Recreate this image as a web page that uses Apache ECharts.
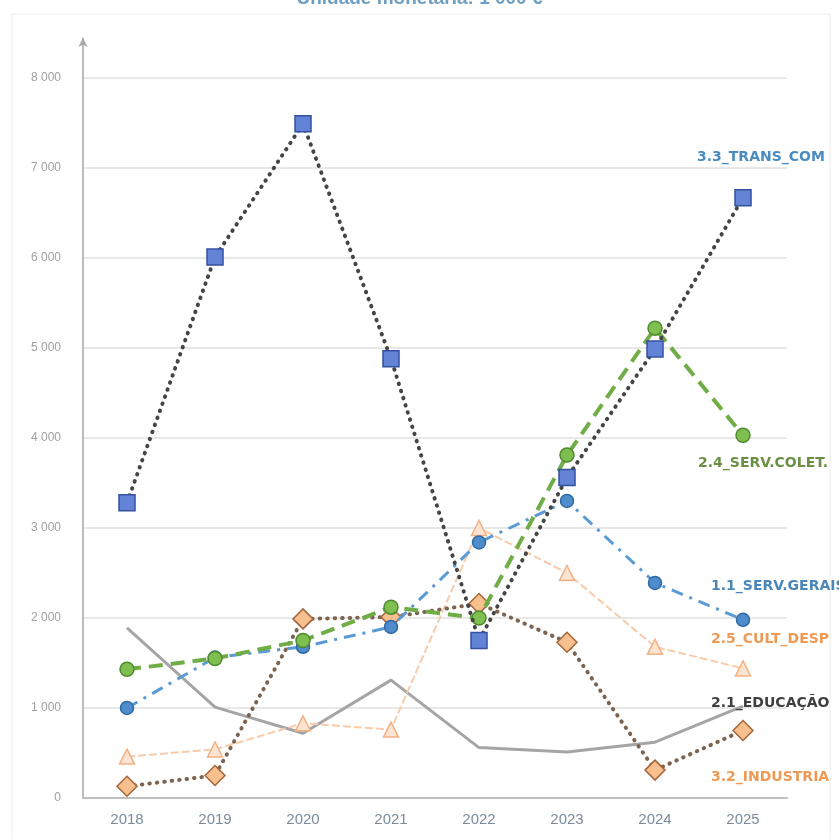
<!DOCTYPE html>
<html>
<head>
<meta charset="utf-8">
<script src="https://cdn.jsdelivr.net/npm/echarts@6/dist/echarts.min.js"></script>
<style>html,body{margin:0;padding:0;background:#fff}#c{width:839px;height:839px}</style>
</head>
<body>
<div id="c"></div>
<script>
const years = ['2018','2019','2020','2021','2022','2023','2024','2025'];
const transCom   = [3280, 6010, 7490, 4880, 1750, 3560, 4990, 6670];
const servColet  = [1430, 1550, 1750, 2120, 2000, 3810, 5220, 4030];
const servGerais = [1000, 1560, 1680, 1900, 2840, 3300, 2390, 1980];
const cultDesp   = [460, 540, 830, 760, 3000, 2500, 1680, 1440];
const educacao   = [1890, 1010, 720, 1310, 560, 510, 620, 1020];
const industria  = [130, 250, 1990, 2010, 2160, 1730, 310, 750];
const yTicks = [0, 1000, 2000, 3000, 4000, 5000, 6000, 7000, 8000];

function withEndLabel(arr, name, color, dx, dy) {
  return arr.map((v, i) => i === arr.length - 1 ? {
    value: v,
    label: {
      show: true, formatter: name, position: 'inside', align: 'left', verticalAlign: 'middle',
      offset: [dx, dy], color: color, fontSize: 14, fontWeight: 'bold', fontFamily: 'DejaVu Sans'
    }
  } : v);
}

const chart = echarts.init(document.getElementById('c'));
chart.setOption({
  backgroundColor: '#fff',
  animation: false,
  title: {
    text: 'Unidade monetária: 1 000 €', left: 'center', top: -16,
    textStyle: { color: '#6e9fc2', fontSize: 19, fontWeight: 'bold', fontFamily: 'Liberation Sans' }
  },
  graphic: [{
    type: 'rect', shape: { x: 12, y: 14, width: 818, height: 830 },
    style: { fill: 'none', stroke: '#ececec', lineWidth: 1 }, silent: true, z: -1
  }],
  grid: { left: 83, right: 52, top: 38, bottom: 41 },
  xAxis: {
    type: 'category', data: years, boundaryGap: true,
    axisLine: { lineStyle: { color: '#bfbfbf', width: 2 } },
    axisTick: { show: false },
    axisLabel: { color: '#7b8b9b', fontSize: 15, margin: 14, fontFamily: 'Liberation Sans' }
  },
  yAxis: {
    type: 'value', min: 0, max: 8444, interval: 1000,
    axisLine: { show: true, symbol: ['none', 'arrow'], symbolSize: [7, 9], lineStyle: { color: '#a6a6a6', width: 1.5 } },
    axisTick: { show: false },
    axisLabel: {
      color: '#a0a0a0', fontSize: 12, margin: 22, showMaxLabel: false, fontFamily: 'Liberation Sans',
      formatter: v => yTicks.includes(v) ? (v >= 1000 ? Math.floor(v/1000) + ' 000' : String(v)) : ''
    },
    splitLine: { show: true, showMaxLine: false, lineStyle: { color: '#e0e0e0', width: 1.5 } }
  },
  series: [
    {
      name: '2.1_EDUCAÇÃO', type: 'line', data: withEndLabel(educacao, '2.1_EDUCAÇÃO', '#3f3f3f', -32, -3),
      symbol: 'circle', symbolSize: 1, showSymbol: true,
      lineStyle: { color: '#a5a5a5', width: 3 }, itemStyle: { color: '#a5a5a5' }, z: 2
    },
    {
      name: '2.5_CULT_DESP', type: 'line', data: withEndLabel(cultDesp, '2.5_CULT_DESP', '#ee9a55', -32, -29),
      symbol: 'triangle', symbolSize: 15,
      lineStyle: { color: '#f8cbad', width: 2, type: [8, 3] },
      itemStyle: { color: '#fde4d2', borderColor: '#f4b183', borderWidth: 1.5 }, z: 3
    },
    {
      name: '3.2_INDUSTRIA', type: 'line', data: withEndLabel(industria, '3.2_INDUSTRIA', '#ee9a55', -32, 47),
      symbol: 'diamond', symbolSize: 20,
      lineStyle: { color: '#7d6450', width: 4, type: [0.5, 7], cap: 'round' },
      itemStyle: { color: '#f7c08e', borderColor: '#a4663a', borderWidth: 1.5 }, z: 4
    },
    {
      name: '1.1_SERV.GERAIS', type: 'line', data: withEndLabel(servGerais, '1.1_SERV.GERAIS', '#4a86b8', -32, -33),
      symbol: 'circle', symbolSize: 13,
      lineStyle: { color: '#5b9bd5', width: 3, type: [12, 7, 3, 7] },
      itemStyle: { color: '#4f8ccc', borderColor: '#2f6aa3', borderWidth: 1.5 }, z: 5
    },
    {
      name: '2.4_SERV.COLET.', type: 'line', data: withEndLabel(servColet, '2.4_SERV.COLET.', '#6a8f45', -45, 28),
      symbol: 'circle', symbolSize: 14,
      lineStyle: { color: '#70ad47', width: 4, type: [14, 8] },
      itemStyle: { color: '#7fbf4f', borderColor: '#4e8a2e', borderWidth: 1.5 }, z: 6
    },
    {
      name: '3.3_TRANS_COM', type: 'line', data: withEndLabel(transCom, '3.3_TRANS_COM', '#4a8cc0', -46, -40),
      symbol: 'rect', symbolSize: 16,
      lineStyle: { color: '#454545', width: 4, type: [0.5, 7], cap: 'round' },
      itemStyle: { color: '#6283d6', borderColor: '#34519e', borderWidth: 1.5 }, z: 7
    }
  ]
});
</script>
</body>
</html>
